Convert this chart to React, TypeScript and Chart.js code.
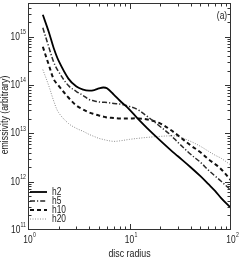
import { useEffect, useRef } from 'react';
import { Chart, registerables } from 'chart.js';

Chart.register(...registerables);

// ---- data ----
const radius = [1.4, 1.6, 1.8, 2, 2.5, 3, 3.5, 4, 4.5, 5, 5.5, 6, 7, 8, 10, 12, 15, 20, 25, 30, 40, 50, 60, 70, 80, 100];
const h2 = [2.85e15, 1.27e15, 5.66e14, 3.2e14, 1.36e14, 9.3e13, 8.07e13, 7.7e13, 7.9e13, 8.5e13, 8.9e13, 8.6e13, 6.37e13, 4.79e13, 3.12e13, 2.04e13, 1.27e13, 7.17e12, 4.68e12, 3.36e12, 1.99e12, 1.3e12, 8.87e11, 6.37e11, 4.57e11, 2.84e11];
const h5 = [1.53e15, 6.22e14, 2.91e14, 1.9e14, 9.77e13, 7.35e13, 6.08e13, 5.02e13, 4.7e13, 4.47e13, 4.4e13, 4.36e13, 4.16e13, 4.06e13, 3.6e13, 3.12e13, 2.24e13, 1.39e13, 9.53e12, 6.52e12, 3.69e12, 2.52e12, 1.73e12, 1.3e12, 1.02e12, 6.68e11];
const h10 = [6.22e14, 2.65e14, 1.3e14, 9.77e13, 5.52e13, 3.78e13, 3.12e13, 2.71e13, 2.5e13, 2.35e13, 2.24e13, 2.14e13, 2.09e13, 2.04e13, 2.04e13, 2.04e13, 1.94e13, 1.61e13, 1.21e13, 9.09e12, 5.66e12, 4.06e12, 2.91e12, 2.3e12, 1.81e12, 1.07e12];
const h20 = [2.09e14, 9.77e13, 4.57e13, 2.71e13, 1.61e13, 1.27e13, 1.1e13, 9.53e12, 8.6e12, 7.88e12, 7.5e12, 7.17e12, 6.84e12, 7.0e12, 7.52e12, 7.88e12, 8.27e12, 8.67e12, 8.87e12, 8.67e12, 6.84e12, 5.4e12, 4.26e12, 3.52e12, 3.05e12, 2.19e12];
const seriesNames = ['h2', 'h5', 'h10', 'h20'];
const xTickExponents = [0, 1, 2];
const yTickExponents = [11, 12, 13, 14, 15];
const xTitle = 'disc radius';
const yTitle = 'emissivity (arbitrary)';
const panelLabel = '(a)';

const FONT = '"Liberation Sans", Arial, sans-serif';
const SX = 0.8; // condensed text

const styles = [
  { color: '#000000', width: 1.8, dash: [] as number[] },
  { color: '#2a2a2a', width: 1.5, dash: [5, 2, 1.2, 2] },
  { color: '#111111', width: 2, dash: [4, 3] },
  { color: '#8c8c8c', width: 1, dash: [1, 1.5] },
];

const allSeries = [h2, h5, h10, h20];

function textW(ctx: CanvasRenderingContext2D, t: string, size: number) {
  ctx.font = `${size}px ${FONT}`;
  return ctx.measureText(t).width * SX;
}

function cText(ctx: CanvasRenderingContext2D, t: string, x: number, y: number, size: number, align: CanvasTextAlign, rot = 0) {
  ctx.save();
  ctx.translate(x, y);
  if (rot) ctx.rotate(rot);
  ctx.scale(SX, 1);
  ctx.font = `${size}px ${FONT}`;
  ctx.fillStyle = '#222';
  ctx.textAlign = align;
  ctx.textBaseline = 'middle';
  ctx.fillText(t, 0, 0);
  ctx.restore();
}

function drawPow(ctx: CanvasRenderingContext2D, exp: string, x: number, y: number, mode: 'right' | 'center') {
  const bw = textW(ctx, '10', 10.5);
  const ew = textW(ctx, exp, 6.5);
  const bx = mode === 'right' ? x - ew - bw - 0.3 : x - bw / 2;
  cText(ctx, '10', bx, y, 10.5, 'left');
  cText(ctx, exp, bx + bw + 0.3, y - 4.5, 6.5, 'left');
}

const framePlugin = {
  id: 'frameTicks',
  afterDatasetsDraw(chart: any) {
    const { ctx, chartArea, scales } = chart;
    const { left, right, top, bottom } = chartArea;
    const xs = scales.x;
    const ys = scales.y;
    ctx.save();
    ctx.strokeStyle = '#333';
    ctx.lineWidth = 1;
    ctx.setLineDash([]);
    ctx.strokeRect(left + 0.5, top + 0.5, right - left - 1, bottom - top - 1);

    for (let d = 0; d < 2; d++) {
      for (let m = 1; m <= 9; m++) {
        const v = m * Math.pow(10, d);
        if (v <= 1 || v >= 100) continue;
        const px = Math.round(xs.getPixelForValue(v)) + 0.5;
        const len = m === 1 ? 6 : 3.5;
        ctx.beginPath();
        ctx.moveTo(px, bottom);
        ctx.lineTo(px, bottom - len);
        ctx.moveTo(px, top);
        ctx.lineTo(px, top + len);
        ctx.stroke();
      }
    }
    for (let d = 11; d <= 15; d++) {
      for (let m = 1; m <= 9; m++) {
        const v = m * Math.pow(10, d);
        if (v <= ys.min || v >= ys.max) continue;
        const py = Math.round(ys.getPixelForValue(v)) + 0.5;
        const len = m === 1 ? 6 : 3.5;
        ctx.beginPath();
        ctx.moveTo(left, py);
        ctx.lineTo(left + len, py);
        ctx.moveTo(right, py);
        ctx.lineTo(right - len, py);
        ctx.stroke();
      }
    }
    ctx.restore();

    yTickExponents.forEach((e) => {
      const py = ys.getPixelForValue(Math.pow(10, e));
      drawPow(ctx, String(e), left - 2, py, 'right');
    });
    xTickExponents.forEach((e) => {
      const px = xs.getPixelForValue(Math.pow(10, e));
      drawPow(ctx, String(e), px, bottom + 10, 'center');
    });

    cText(ctx, xTitle, (left + right) / 2, 254, 11, 'center');
    cText(ctx, yTitle, 5, 115, 11, 'center', -Math.PI / 2);
    cText(ctx, panelLabel, right - 9, top + 13, 10.5, 'center');

    ctx.save();
    const ly = [192, 201, 210, 219];
    seriesNames.forEach((name, i) => {
      const s = styles[i];
      ctx.strokeStyle = s.color;
      ctx.lineWidth = s.width;
      ctx.setLineDash(s.dash);
      ctx.beginPath();
      ctx.moveTo(left + 2, ly[i]);
      ctx.lineTo(left + 19, ly[i]);
      ctx.stroke();
      ctx.setLineDash([]);
      cText(ctx, name, left + 24, ly[i], 10.5, 'left');
    });
    ctx.restore();
  },
};

export default function App() {
  const ref = useRef<HTMLCanvasElement | null>(null);
  useEffect(() => {
    if (!ref.current) return;
    const chart = new Chart(ref.current, {
      type: 'line',
      data: {
        datasets: allSeries.map((arr, i) => ({
          label: seriesNames[i],
          data: radius.map((r, j) => ({ x: r, y: arr[j] })),
          borderColor: styles[i].color,
          borderWidth: styles[i].width,
          borderDash: styles[i].dash,
          pointRadius: 0,
          fill: false,
          tension: 0.35,
        })),
      },
      plugins: [framePlugin],
      options: {
        animation: false,
        responsive: true,
        maintainAspectRatio: false,
        layout: { padding: { top: 3, right: 9, left: 0, bottom: 0 } },
        plugins: { legend: { display: false }, tooltip: { enabled: false } },
        scales: {
          x: {
            type: 'logarithmic',
            min: 1,
            max: 100,
            grid: { display: false },
            border: { display: false },
            ticks: { display: false },
            afterFit: (s: any) => { s.height = 32; },
          },
          y: {
            type: 'logarithmic',
            min: 1e11,
            max: 5e15,
            grid: { display: false },
            border: { display: false },
            ticks: { display: false },
            afterFit: (s: any) => { s.width = 28; },
          },
        },
      },
    });
    return () => chart.destroy();
  }, []);
  return (
    <div style={{ position: 'absolute', left: 0, top: 0, width: 240, height: 262, background: '#fff' }}>
      <canvas ref={ref} />
    </div>
  );
}
